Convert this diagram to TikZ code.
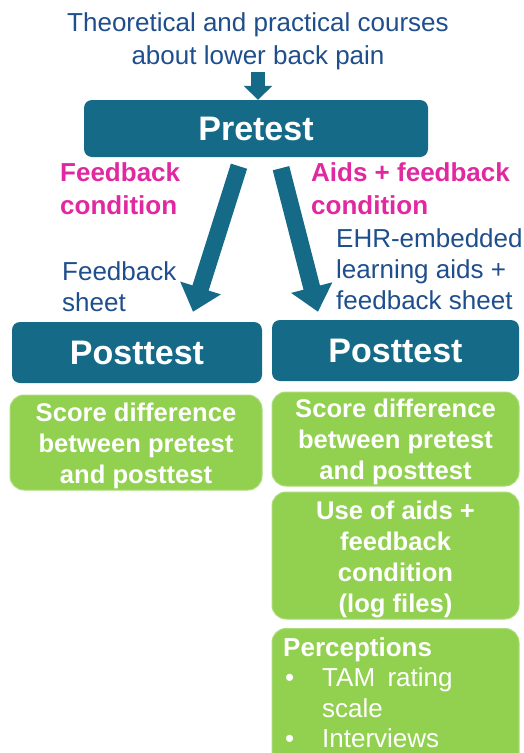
\documentclass[tikz,border=0pt]{standalone}
\usepackage{fontspec}
\setmainfont{Liberation Sans}
\usetikzlibrary{arrows.meta,calc}
\definecolor{tealc}{RGB}{21,107,135}
\definecolor{txtblue}{RGB}{31,78,140}
\definecolor{pinkc}{RGB}{224,40,160}
\definecolor{greenc}{RGB}{146,208,80}
\begin{document}
\begin{tikzpicture}[x=1pt,y=-1pt,
  tealbox/.style={fill=tealc, rounded corners=8pt, text=white, font=\fontsize{34}{40}\selectfont\bfseries, inner sep=0pt},
  greenbox/.style={fill=greenc, draw=greenc!75!white, line width=1pt, rounded corners=14pt, inner sep=0pt},
  greentext/.style={text=white, font=\fontsize{25.6}{31}\selectfont\bfseries, align=center, inner sep=0pt},
  bluetext/.style={text=txtblue, font=\fontsize{26}{31}\selectfont, inner sep=0pt},
  pinktext/.style={text=pinkc, font=\fontsize{26}{33}\selectfont\bfseries, inner sep=0pt, align=left},
  bigarrow/.style={draw=tealc, line width=17pt, -{Triangle[width=41pt,length=25pt]}},
  smallarrow/.style={draw=tealc, line width=14pt, -{Triangle[width=28pt,length=14pt]}}
]
\useasboundingbox (0,0) rectangle (523,753);
\clip (0,0) rectangle (523,753);

\node[bluetext, align=center, font=\fontsize{26}{33}\selectfont] (intro) at (258,41.5) {Theoretical and practical courses\\about lower back pain};

\node[tealbox, minimum width=344pt, minimum height=57pt] (pre) at (256,128.5) {Pretest};

\draw[smallarrow] ($(pre.north)+(2,-28)$) -- ($(pre.north)+(2,0)$);

\node[pinktext, anchor=west] (fbc) at (60,189) {Feedback\\condition};
\node[pinktext, anchor=west] (afc) at (311,189) {Aids + feedback\\condition};

\node[tealbox, minimum width=250pt, minimum height=61pt] (postL) at (137,352.5) {Posttest};
\node[tealbox, minimum width=247pt, minimum height=61pt] (postR) at (395.5,350.5) {Posttest};

\draw[bigarrow] ($(pre.south)+(-17,9)$) -- ($(postL.north)+(56,-10)$);
\draw[bigarrow] ($(pre.south)+(25,11)$) -- ($(postR.north)+(-77.5,-8)$);

\node[bluetext, anchor=west, align=left] (fbs) at (62,286.5) {Feedback\\sheet};
\node[bluetext, anchor=west, align=left] (ehr) at (336,269) {EHR-embedded\\learning aids +\\feedback sheet};

\node[greenbox, minimum width=252pt, minimum height=95pt] (gL) at (136,442.5) {};
\node[greentext] (gLt) at ($(gL.center)+(0,3)$) {Score difference\\between pretest\\and posttest};
\node[greenbox, minimum width=247pt, minimum height=94pt] (gR1) at (395.5,439) {};
\node[greentext] (gR1t) at ($(gR1.center)+(0,2.5)$) {Score difference\\between pretest\\and posttest};
\node[greenbox, minimum width=247pt, minimum height=127pt] (gR2) at (395.5,555.5) {};
\node[greentext] (gR2t) at ($(gR2.center)+(0,4)$) {Use of aids +\\feedback\\condition\\(log files)};
\node[greenbox, minimum width=247pt, minimum height=140pt, anchor=north] (gR3) at (395.5,628) {};
\node[anchor=north west, inner sep=0pt, align=left, text=white, font=\fontsize{26}{30.5}\selectfont] (perc) at (283,637) {\textbf{Perceptions}\\\makebox[39pt][l]{\hspace{2pt}•}TAM\hspace{0.2em} rating\\\hspace*{39pt}scale\\\makebox[39pt][l]{\hspace{2pt}•}Interviews};
\end{tikzpicture}
\end{document}
